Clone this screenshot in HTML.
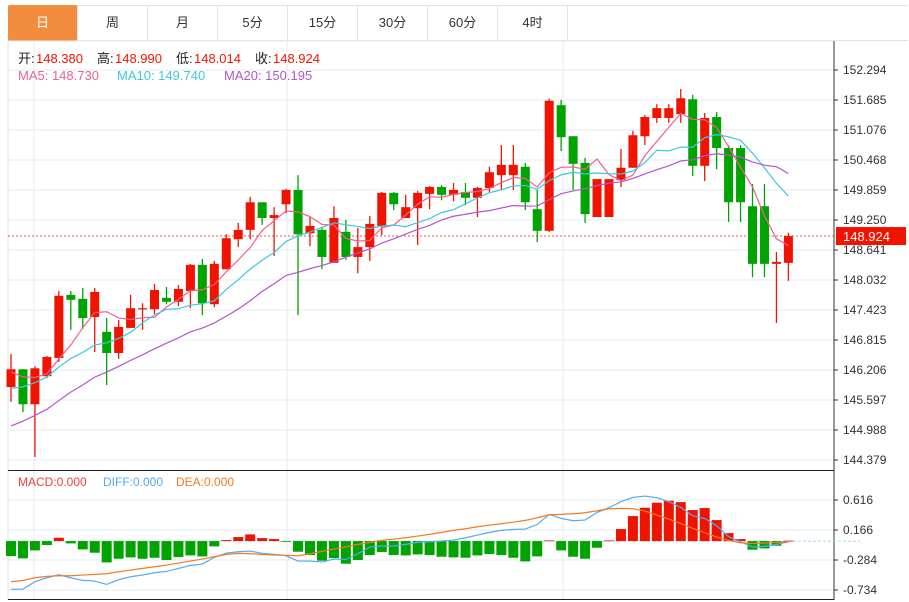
<!DOCTYPE html>
<html><head><meta charset="utf-8">
<style>
body{margin:0;background:#fff;font-family:"Liberation Sans","Noto Sans CJK SC",sans-serif;}
#wrap{position:relative;width:909px;height:602px;overflow:hidden;}
.tab{position:absolute;top:5px;height:36px;width:70px;line-height:36px;text-align:center;font-size:13px;color:#333;border-right:1px solid #e3e3e3;box-sizing:border-box;}
</style></head><body>
<div id="wrap">
<div style="position:absolute;left:8px;top:5px;width:900px;height:36px;border-top:1px solid #e3e3e3;border-bottom:1px solid #e3e3e3;box-sizing:border-box"></div>
<div class="tab" style="left:8px;background:#f28c3e;color:#fff;border-radius:2px">日</div>
<div class="tab" style="left:78px">周</div>
<div class="tab" style="left:148px">月</div>
<div class="tab" style="left:218px">5分</div>
<div class="tab" style="left:288px">15分</div>
<div class="tab" style="left:358px">30分</div>
<div class="tab" style="left:428px">60分</div>
<div class="tab" style="left:498px">4时</div>
<svg id="svg" width="909" height="602" style="position:absolute;left:0;top:0"></svg>
</div>
<script>
const opens=[145.86,146.22,145.51,146.08,146.45,147.73,147.65,147.28,146.98,146.55,147.06,147.44,147.44,147.67,147.59,147.81,148.34,147.54,148.25,148.86,149.05,149.61,149.29,149.57,149.86,148.98,149.05,148.38,149.01,148.50,148.70,149.13,149.80,149.29,149.49,149.78,149.92,149.76,149.82,149.70,149.90,150.16,150.16,150.33,149.47,149.03,151.58,150.95,150.41,149.31,149.31,150.06,150.31,150.95,151.32,151.32,151.40,151.70,150.35,151.34,150.71,150.71,149.53,149.53,148.36,148.38];
const highs=[146.53,146.22,146.28,146.49,147.81,147.81,147.87,147.87,147.26,147.22,147.73,147.56,147.95,147.89,147.93,148.36,148.46,148.42,148.96,149.19,149.72,149.61,149.51,149.88,150.16,149.31,149.11,149.53,149.25,149.09,149.33,149.82,149.82,149.76,149.84,149.94,149.96,150.00,150.00,149.92,150.33,150.77,150.77,150.41,149.86,151.71,151.69,150.95,150.51,150.08,150.08,150.69,151.06,151.38,151.60,151.60,151.91,151.79,151.42,151.44,150.77,150.77,149.98,149.98,148.60,148.99];
const lows=[145.56,145.35,144.44,146.04,146.37,147.02,147.04,146.57,145.90,146.43,147.06,147.02,147.34,147.54,147.50,147.46,147.32,147.48,148.25,148.70,148.86,149.15,148.52,149.39,147.32,148.72,148.25,148.38,148.44,148.17,148.42,148.94,149.45,149.29,148.74,149.47,149.65,149.63,149.55,149.31,149.82,149.86,149.86,149.45,148.80,149.01,150.65,149.86,149.19,149.31,149.31,149.92,150.31,150.77,151.22,151.22,151.22,150.14,150.04,150.28,149.21,149.21,148.09,148.09,147.16,148.014];
const closes=[146.22,145.51,146.24,146.47,147.71,147.63,147.26,147.79,146.55,147.08,147.46,147.46,147.83,147.59,147.85,148.34,147.56,148.36,148.88,149.05,149.61,149.29,149.35,149.86,148.96,149.13,148.50,149.29,148.50,148.70,149.17,149.80,149.57,149.51,149.80,149.92,149.76,149.86,149.70,149.90,150.22,150.37,150.37,149.61,149.03,151.67,150.93,150.39,149.37,150.08,150.08,150.31,150.97,151.34,151.52,151.52,151.72,150.35,151.32,150.71,149.61,149.61,148.36,148.36,148.40,148.924];
const priorCloses=[143.6,143.9,144.0,144.2,144.1,144.4,144.6,144.5,144.8,145.0,145.2,145.4,145.3,145.7,145.9,146.0,146.3,146.1,146.2];
const macdHist=[-0.225,-0.26,-0.14,-0.06,0.05,-0.035,-0.125,-0.175,-0.32,-0.265,-0.245,-0.265,-0.25,-0.285,-0.24,-0.215,-0.23,-0.08,0.015,0.06,0.10,0.045,0.03,-0.01,-0.16,-0.21,-0.295,-0.255,-0.34,-0.285,-0.21,-0.165,-0.21,-0.215,-0.2,-0.21,-0.235,-0.245,-0.25,-0.215,-0.195,-0.21,-0.25,-0.305,-0.23,0.01,-0.14,-0.235,-0.265,-0.10,0.01,0.18,0.375,0.50,0.575,0.605,0.585,0.465,0.495,0.315,0.12,0.03,-0.13,-0.11,-0.07,0.005];
const diffVals=[-0.725,-0.72,-0.61,-0.55,-0.505,-0.55,-0.59,-0.60,-0.65,-0.58,-0.535,-0.51,-0.475,-0.455,-0.41,-0.365,-0.345,-0.245,-0.18,-0.16,-0.15,-0.185,-0.20,-0.22,-0.30,-0.30,-0.315,-0.27,-0.275,-0.19,-0.09,-0.075,-0.075,-0.05,-0.02,-0.01,0,0.015,0.05,0.09,0.13,0.16,0.175,0.18,0.25,0.40,0.34,0.305,0.315,0.43,0.50,0.59,0.655,0.675,0.65,0.59,0.505,0.38,0.34,0.23,0.065,-0.01,-0.09,-0.08,-0.05,-0.01];
const deaVals=[-0.61,-0.59,-0.55,-0.53,-0.52,-0.52,-0.51,-0.50,-0.49,-0.46,-0.435,-0.41,-0.385,-0.36,-0.33,-0.30,-0.27,-0.235,-0.20,-0.185,-0.19,-0.20,-0.21,-0.215,-0.22,-0.19,-0.155,-0.12,-0.085,-0.05,-0.02,0.01,0.03,0.05,0.075,0.10,0.13,0.16,0.185,0.215,0.24,0.26,0.285,0.31,0.35,0.395,0.40,0.41,0.425,0.455,0.485,0.49,0.485,0.45,0.39,0.33,0.265,0.19,0.125,0.06,0.01,-0.025,-0.035,-0.03,-0.02,-0.01];
const priceTicks=["152.294","151.685","151.076","150.468","149.859","149.250","148.641","148.032","147.423","146.815","146.206","145.597","144.988","144.379"];
const macdTicks=["0.616","0.166","-0.284","-0.734"];

const NS="http://www.w3.org/2000/svg";
const svg=document.getElementById('svg');
function mk(tag,attrs,parent){const e=document.createElementNS(NS,tag);for(const k in attrs)e.setAttribute(k,attrs[k]);(parent||svg).appendChild(e);return e;}
const L=8,R=834,PT=70,PB=460,PMAX=152.294,PMIN=144.379;
const yP=p=>PT+(PMAX-p)/(PMAX-PMIN)*(PB-PT);
const xI=i=>11+i*11.96;
const MT=500,MB=590,MMAX=0.616,MMIN=-0.734;
const yM=v=>MT+(MMAX-v)/(MMAX-MMIN)*(MB-MT);
const RED="#f01400",GREEN="#00a400";

// frame & grid
mk('line',{x1:L,y1:41,x2:L,y2:600,stroke:'#dde3ea'});
priceTicks.forEach((t,k)=>{const v=parseFloat(t);const y=yP(v);
 const g=mk('line',{x1:L,y1:y,x2:R,y2:y,stroke:'#e3ebf2'});
 
 mk('line',{x1:R,y1:y,x2:R+4,y2:y,stroke:'#333'});
 const tx=mk('text',{x:843,y:y+4,'font-size':12,fill:'#333'});tx.textContent=t;
 });
mk('line',{x1:L,y1:41,x2:R,y2:41,stroke:'#e3ebf2'});
macdTicks.forEach(t=>{const y=yM(parseFloat(t));
 mk('line',{x1:L,y1:y,x2:R,y2:y,stroke:'#e3ebf2'});
 mk('line',{x1:R,y1:y,x2:R+4,y2:y,stroke:'#333'});
 const tx=mk('text',{x:843,y:y+4,'font-size':12,fill:'#333'});tx.textContent=t;
 });
[34,287,563].forEach(x=>{mk('line',{x1:x,y1:41,x2:x,y2:470,stroke:'#e3ebf2'});mk('line',{x1:x,y1:470,x2:x,y2:599,stroke:'#e3ebf2'});});
mk('line',{x1:R,y1:41,x2:R,y2:600,stroke:'#333'});
mk('line',{x1:L,y1:470.5,x2:R,y2:470.5,stroke:'#222'});
mk('line',{x1:L,y1:599.5,x2:R,y2:599.5,stroke:'#222'});

// current price line
const lastC=closes[closes.length-1];
const cy=yP(lastC);
const pl=mk('line',{x1:L,y1:cy,x2:R,y2:cy,stroke:'#f05050','stroke-dasharray':'2,2'});

const pb=mk('rect',{x:836,y:cy-9,width:70,height:18,fill:'#f01400'});

const pt=mk('text',{x:843,y:cy+5,'font-size':13,fill:'#fff'});pt.textContent=lastC.toFixed(3);

// candles
for(let i=0;i<closes.length;i++){
 const x=xI(i),up=closes[i]>=opens[i],col=up?RED:GREEN;
 const g=mk('g',{});
 
 mk('line',{x1:x,y1:yP(highs[i]),x2:x,y2:yP(lows[i]),stroke:col,'stroke-width':1.3},g);
 const t=yP(Math.max(opens[i],closes[i])),b=yP(Math.min(opens[i],closes[i]));
 mk('rect',{x:x-4.5,y:t,width:9,height:Math.max(1.2,b-t),fill:col},g);
}
// MAs
const all=priorCloses.concat(closes);
function ma(n){const out=[];for(let i=0;i<closes.length;i++){const j=i+priorCloses.length;let s=0,c=0;for(let k=Math.max(0,j-n+1);k<=j;k++){s+=all[k];c++;}out.push(s/c);}return out;}
[[5,'#f0608f','ma5-line'],[10,'#3cc8e0','ma10-line'],[20,'#b455cc','ma20-line']].forEach(([n,c,name])=>{
 const v=ma(n);const p=mk('polyline',{points:v.map((m,i)=>xI(i)+','+yP(m)).join(' '),fill:'none',stroke:c,'stroke-width':1.2});
 });

// MACD
const zy=yM(0);
const zl=mk('line',{x1:L,y1:zy,x2:860,y2:zy,stroke:'#a8d8ee','stroke-dasharray':'3,2'});

macdHist.forEach((v,i)=>{const y=yM(v);const r=mk('rect',{x:xI(i)-5,y:Math.min(y,zy),width:10,height:Math.max(0.8,Math.abs(y-zy)),fill:v>=0?RED:GREEN});
 });
const dl=mk('polyline',{points:diffVals.map((v,i)=>xI(i)+','+yM(v)).join(' '),fill:'none',stroke:'#55aaf0','stroke-width':1.2});

const el=mk('polyline',{points:deaVals.map((v,i)=>xI(i)+','+yM(v)).join(' '),fill:'none',stroke:'#f57a20','stroke-width':1.2});


// legends
function txt(x,y,s,c,size,name){const t=mk('text',{x:x,y:y,'font-size':size,fill:c});t.textContent=s;return t;}
const hdr=[["开:",'#222',18],["148.380",RED,36],["高:",'#222',97],["148.990",RED,115],["低:",'#222',176],["148.014",RED,194],["收:",'#222',255],["148.924",RED,273]];
hdr.forEach(h=>txt(h[2],63,h[0],h[1],13,'ohlc-legend'));
txt(18,80,"MA5: 148.730",'#f0608f',13,'ma5-legend');
txt(117,80,"MA10: 149.740",'#3cc8e0',13,'ma10-legend');
txt(224,80,"MA20: 150.195",'#b455cc',13,'ma20-legend');
txt(18,486,"MACD:0.000",'#f03c3c',12,'macd-legend');
txt(103,486,"DIFF:0.000",'#55aaf0',12,'diff-legend');
txt(176,486,"DEA:0.000",'#f57a20',12,'dea-legend');
</script>
</body></html>
